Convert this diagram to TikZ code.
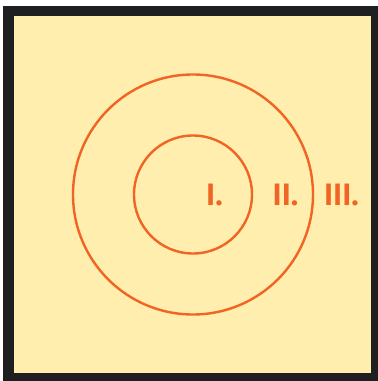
\documentclass[tikz,border=0pt]{standalone}
\usepackage{fontspec}
\setmainfont{Fira Sans}[BoldFont={Fira Sans SemiBold}]
\definecolor{frame}{HTML}{1E1F21}
\definecolor{paper}{HTML}{FFEEAD}
\definecolor{ring}{HTML}{F06424}
\tikzset{
  zone/.style={draw=ring, line width=2.4pt},
  zonelabel/.style={text=ring, font=\fontsize{31}{31}\selectfont\bfseries, anchor=base, inner sep=0pt}
}
\begin{document}
\begin{tikzpicture}[x=1pt, y=-1pt]
    % Rahmen
    \useasboundingbox (0,0) rectangle (378,381);
    \fill[frame] (3,6) rectangle (378,381);
    \fill[paper] (14,16) rectangle (371,373);

    % Kreise
    \draw[zone] (193,194.5) circle (59);
    \draw[zone] (193,194.5) circle (120);

    % Bereiche
    \node[zonelabel] (one) at (214.5,205) {I.};
    \node[zonelabel] (two) at (285.5,205) {II.};
    \node[zonelabel] (three) at (341.5,205) {III.};
\end{tikzpicture}
\end{document}
